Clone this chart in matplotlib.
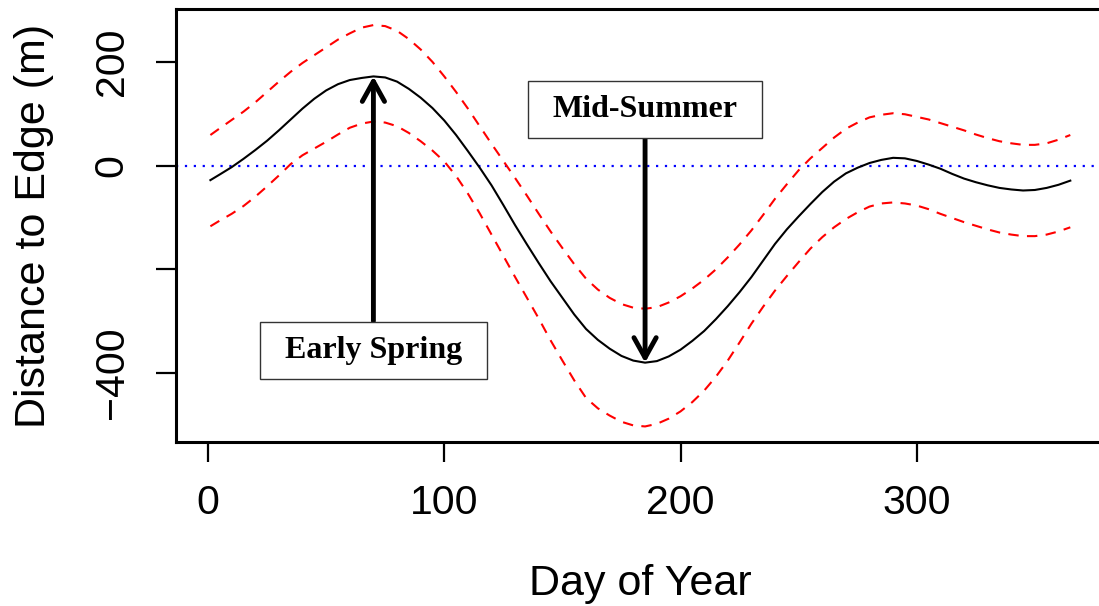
import matplotlib
matplotlib.use("Agg")
import matplotlib.pyplot as plt
from matplotlib.path import Path
import numpy as np

# ---- data ----
days = [1, 5, 10, 15, 20, 25, 30, 35, 40, 45, 50, 55, 60, 65, 70, 75, 80,
        85, 90, 95, 100, 105, 110, 115, 120, 125, 130, 135, 140, 145, 150,
        155, 160, 165, 170, 175, 180, 185, 190, 195, 200, 205, 210, 215, 220,
        225, 230, 235, 240, 245, 250, 255, 260, 265, 270, 275, 280, 285, 290,
        295, 300, 305, 310, 315, 320, 325, 330, 335, 340, 345, 350, 355, 360,
        365]
mean_dist = [-28, -17, -3, 13, 30, 48, 68, 89, 110, 129, 145, 157, 165, 169,
             172, 170, 162, 148, 131, 111, 87, 59, 28, -4, -38, -76, -115,
             -152, -188, -223, -255, -287, -315, -336, -353, -367, -376, -380,
             -377, -368, -355, -338, -319, -296, -271, -244, -215, -183, -151,
             -123, -98, -74, -51, -31, -15, -4, 5, 11, 15, 14, 9, 2, -6, -16,
             -25, -32, -38, -43, -46, -48, -47, -43, -37, -29]
upper_ci = [59, 72, 88, 104, 122, 142, 162, 181, 198, 213, 228, 243, 255, 266,
            271, 269, 260, 244, 224, 200, 172, 142, 110, 76, 42, 9, -24, -58,
            -93, -127, -159, -190, -218, -239, -255, -267, -274, -276, -273,
            -264, -252, -237, -220, -200, -177, -152, -125, -95, -64, -36, -9,
            14, 34, 54, 71, 83, 93, 98, 101, 99, 94, 89, 82, 75, 68, 60, 53,
            47, 43, 40, 40, 43, 50, 59]
lower_ci = [-117, -106, -93, -78, -60, -40, -19, 3, 20, 33, 46, 60, 73, 81,
            85, 83, 76, 63, 47, 29, 8, -20, -54, -92, -133, -174, -215, -255,
            -295, -337, -376, -414, -448, -468, -482, -494, -501, -503, -498,
            -488, -474, -456, -434, -407, -376, -341, -305, -272, -241, -213,
            -186, -160, -138, -119, -103, -90, -79, -73, -71, -73, -77, -84,
            -93, -101, -109, -116, -123, -129, -133, -136, -136, -133, -127,
            -119]
x_ticks = [0, 100, 200, 300]
y_ticks = [-400, -200, 0, 200]
y_tick_labels = ["\u2212400", "", "0", "200"]
labels = ["Early Spring", "Mid-Summer"]

plt.rcParams['font.family'] = ['Liberation Sans', 'DejaVu Sans']

W, H = 1099, 606
fig = plt.figure(figsize=(W / 100, H / 100), dpi=100)
ax = fig.add_axes([176 / W, 1 - 442 / H, (1104.7 - 176) / W, (442 - 9) / H])

ax.axhline(0, color='#0000FF', lw=1.6, linestyle=(0, (1, 3)))
ax.plot(days, mean_dist, color='black', lw=1.5)
ax.plot(days, upper_ci, color='#FF0000', lw=1.5, linestyle=(0, (5, 4)))
ax.plot(days, lower_ci, color='#FF0000', lw=1.5, linestyle=(0, (5, 4)))

ax.set_xlim(-13.56, 379.56)
ax.set_ylim(-533, 302)

for s in ['left', 'top', 'bottom']:
    ax.spines[s].set_linewidth(2.2)
ax.spines['right'].set_visible(False)

ax.set_xticks(x_ticks)
ax.set_xticklabels([str(v) for v in x_ticks])
ax.set_yticks(y_ticks)
ax.set_yticklabels(y_tick_labels)
ax.tick_params(axis='both', direction='out', length=14.5, width=1.6,
               labelsize=29.5)
ax.tick_params(axis='x', pad=16)
ax.tick_params(axis='y', pad=18)
for lbl in ax.get_yticklabels():
    lbl.set_rotation(90)
    lbl.set_va('center')

ax.set_xlabel("Day of Year", fontsize=31, labelpad=30)
ax.set_ylabel("Distance to Edge (m)", fontsize=31, labelpad=28)


def wide_box(x0, y0, width, height, mutation_size):
    px = 0.78 * mutation_size
    py = 0.44 * mutation_size
    xa, xb = x0 - px, x0 + width + px
    ya, yb = y0 - py, y0 + height + py
    return Path([(xa, ya), (xb, ya), (xb, yb), (xa, yb), (xa, ya)],
                closed=True)


# annotations
i_max = int(np.argmax(mean_dist))
i_min = int(np.argmin(mean_dist))
arrow = dict(arrowstyle='->,head_length=0.72,head_width=0.4', lw=3.5,
             color='black', mutation_scale=20, shrinkA=0, shrinkB=0)
for lab, i, ytxt in [(labels[0], i_max, -356), (labels[1], i_min, 109)]:
    ax.annotate(lab, xy=(days[i], mean_dist[i]), xytext=(days[i], ytxt),
                ha='center', va='center', fontsize=23, fontweight='bold',
                family='Liberation Serif',
                bbox=dict(boxstyle=wide_box, fc='white', ec='#333333',
                          lw=1.0),
                arrowprops=arrow)

fig.savefig("out.png", dpi=100)
